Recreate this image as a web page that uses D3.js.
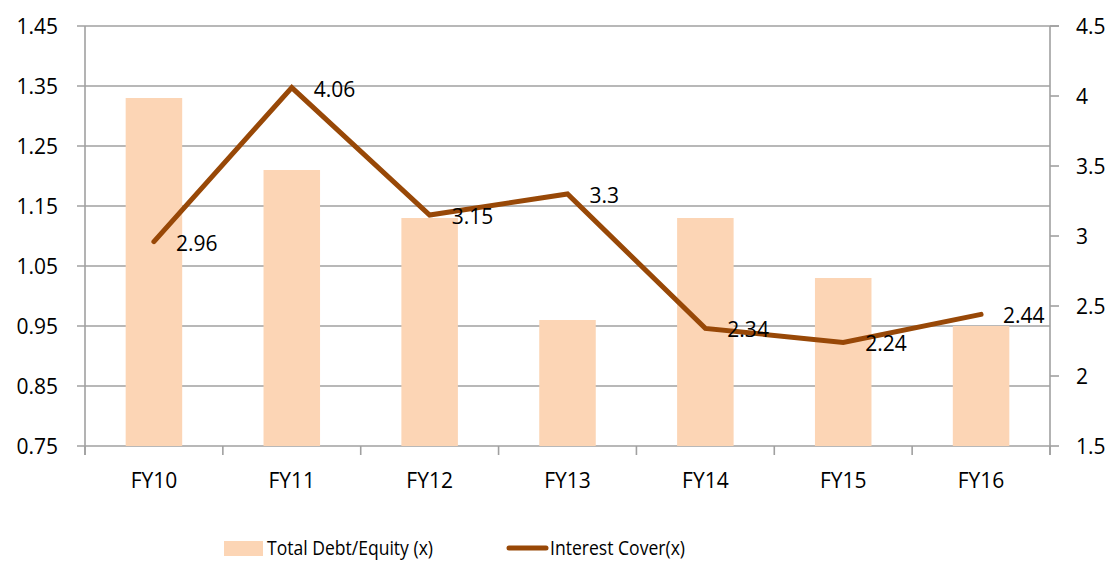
<!DOCTYPE html>
<html><head><meta charset="utf-8">
<script src="https://cdn.jsdelivr.net/npm/d3@7"></script>
<style>body{margin:0;background:#fff}text{font-family:"Open Sans",sans-serif;fill:#000}</style>
</head><body><svg id="c" width="1110" height="561"></svg>
<script>
const categories = ["FY10","FY11","FY12","FY13","FY14","FY15","FY16"];
const debtEquity = [1.33,1.21,1.13,0.96,1.13,1.03,0.95];
const interestCover = [2.96,4.06,3.15,3.3,2.34,2.24,2.44];
const leftTicks = [0.75,0.85,0.95,1.05,1.15,1.25,1.35,1.45];
const rightTicks = [1.5,2,2.5,3,3.5,4,4.5];
const seriesNames = ["Total Debt/Equity (x)","Interest Cover(x)"];

const barColor = "#FCD5B5", lineColor = "#984807", gridColor = "#a0a0a0";
const svg = d3.select("#c");
const L = 85, R = 1050, T = 26, B = 446;
const x = d3.scaleBand().domain(categories).range([L,R]).paddingInner(0.59).paddingOuter(0.295);
const xc = d3.scaleBand().domain(categories).range([L,R]);
const yL = d3.scaleLinear().domain([0.75,1.45]).range([B,T]);
const yR = d3.scaleLinear().domain([1.5,4.5]).range([B,T]);
const fs = 21;

// gridlines
svg.append("g").selectAll("line").data(leftTicks).join("line")
  .attr("x1",L-8).attr("x2",d=>d===1.45?R+9:R).attr("y1",d=>yL(d)).attr("y2",d=>yL(d))
  .attr("stroke",gridColor).attr("stroke-width",1.6);
// left axis
svg.append("line").attr("x1",L).attr("x2",L).attr("y1",T).attr("y2",B+9).attr("stroke",gridColor).attr("stroke-width",1.6);
svg.append("g").selectAll("text").data(leftTicks).join("text")
  .attr("x",L-27).attr("y",d=>yL(d)).attr("text-anchor","end").attr("dominant-baseline","central")
  .style("font-size",fs+"px").text(d=>d.toFixed(2));
// right axis
svg.append("line").attr("x1",R).attr("x2",R).attr("y1",T).attr("y2",B+9).attr("stroke",gridColor).attr("stroke-width",1.6);
svg.append("g").selectAll("line").data(rightTicks).join("line")
  .attr("x1",R).attr("x2",R+9).attr("y1",d=>yR(d)).attr("y2",d=>yR(d)).attr("stroke",gridColor).attr("stroke-width",1.6);
svg.append("g").selectAll("text").data(rightTicks).join("text")
  .attr("x",R+26).attr("y",d=>yR(d)).attr("dominant-baseline","central")
  .style("font-size",fs+"px").text(d=>String(d));
// x ticks
const xt = categories.map(c=>xc(c)).concat([R]);
svg.append("g").selectAll("line").data(xt).join("line")
  .attr("x1",d=>d).attr("x2",d=>d).attr("y1",B).attr("y2",B+9).attr("stroke",gridColor).attr("stroke-width",1.6);
svg.append("g").selectAll("text").data(categories).join("text")
  .attr("x",d=>xc(d)+xc.bandwidth()/2).attr("y",480).attr("text-anchor","middle").attr("dominant-baseline","central")
  .style("font-size",fs+"px").text(d=>d);
// bars
svg.append("g").selectAll("rect").data(categories).join("rect")
  .attr("x",d=>x(d)).attr("width",x.bandwidth())
  .attr("y",(d,i)=>yL(debtEquity[i])).attr("height",(d,i)=>B-yL(debtEquity[i]))
  .attr("fill",barColor);
// line
const cx = d=>xc(d)+xc.bandwidth()/2;
svg.append("path").datum(categories)
  .attr("d",d3.line().x(d=>cx(d)).y((d,i)=>yR(interestCover[i])))
  .attr("fill","none").attr("stroke",lineColor).attr("stroke-width",5).attr("stroke-linejoin","miter").attr("stroke-linecap","round");
svg.append("g").selectAll("text").data(categories).join("text")
  .attr("x",d=>cx(d)+22).attr("y",(d,i)=>yR(interestCover[i])+1).attr("dominant-baseline","central")
  .style("font-size",fs+"px").text((d,i)=>String(interestCover[i]));
// legend
const lg = svg.append("g");
lg.append("rect").attr("x",224).attr("y",541).attr("width",39).attr("height",15).attr("fill",barColor);
lg.append("text").attr("x",267).attr("y",547).attr("dominant-baseline","central").style("font-size","20px")
  .attr("textLength",166).attr("lengthAdjust","spacingAndGlyphs").text(seriesNames[0]);
lg.append("line").attr("x1",509).attr("x2",546).attr("y1",548).attr("y2",548).attr("stroke",lineColor).attr("stroke-width",5).attr("stroke-linecap","round");
lg.append("text").attr("x",550).attr("y",547).attr("dominant-baseline","central").style("font-size","20px")
  .attr("textLength",135).attr("lengthAdjust","spacingAndGlyphs").text(seriesNames[1]);
</script></body></html>
